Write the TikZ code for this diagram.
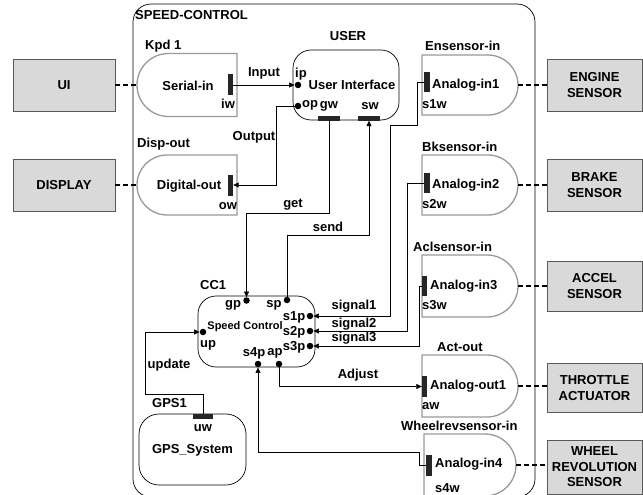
\documentclass[tikz,border=0pt]{standalone}
\usepackage{fontspec}
\setmainfont{Liberation Sans}
\usetikzlibrary{arrows.meta}
\begin{document}
\begin{tikzpicture}[x=1pt,y=-1pt,
  font=\fontsize{13}{16}\selectfont\bfseries,
  txt/.style={inner sep=0pt},
  small/.style={inner sep=0pt,font=\fontsize{11}{13}\selectfont\bfseries},
  ext/.style={draw=black!65, fill=black!15, line width=0.9pt, align=center, inner sep=0pt},
  dsh/.style={draw=black!40, line width=1.3pt, fill=white},
  rbox/.style={draw=black, line width=0.7pt, rounded corners=18pt, fill=white, inner sep=0pt},
  bar/.style={draw=none, fill=black!85, inner sep=0pt, rectangle},
  port/.style={circle, fill=black, inner sep=0pt, minimum size=6.5pt},
  conn/.style={line width=0.6pt, draw=black},
  arr/.style={conn, -{Triangle[length=5.5pt,width=5pt]}},
  dashc/.style={line width=1.4pt, dash pattern=on 5pt off 3pt}]
\useasboundingbox (0,0) rectangle (643,495);

% main frame
\draw[line width=0.7pt, rounded corners=18pt] (133,4) rectangle (535,497);
\node[txt, anchor=west] (sclN) at (135,15) {SPEED-CONTROL};

% external boxes
\node[ext, minimum width=102pt, minimum height=52pt] (ui) at (64,85) {UI};
\node[ext, minimum width=102pt, minimum height=52pt] (disp) at (64,185) {DISPLAY};
\node[ext, minimum width=95pt, minimum height=52pt] (eng) at (594.5,85) {ENGINE\\SENSOR};
\node[ext, minimum width=95pt, minimum height=52pt] (brk) at (594.5,185) {BRAKE\\SENSOR};
\node[ext, minimum width=95pt, minimum height=50pt] (acc) at (594.5,286) {ACCEL\\SENSOR};
\node[ext, minimum width=95pt, minimum height=49pt] (thr) at (594.5,388) {THROTTLE\\ACTUATOR};
\node[ext, minimum width=95pt, minimum height=54pt, font=\fontsize{13}{15.5}\selectfont\bfseries] (whl) at (594.5,467) {WHEEL\\REVOLUTION\\SENSOR};

% Kpd 1 / Serial-in
\draw[dsh] (237,53.5) -- (168.5,53.5) arc[start angle=90,end angle=270,radius=31.5pt] -- (237,116.5) -- cycle;
\coordinate (kpdL) at (137,85);
\node[txt] (kpdT) at (188,86) {Serial-in};
\node[txt, anchor=west] (kpdN) at (145,46) {Kpd 1};
\node[bar, minimum width=5pt, minimum height=21pt] (iw) at (230.5,85) {};
\node[txt] (iwT) at (228,104) {iw};

% Disp-out / Digital-out
\draw[dsh] (237,155) -- (167,155) arc[start angle=90,end angle=270,radius=30pt] -- (237,215) -- cycle;
\coordinate (dispL) at (137,185);
\node[txt] (dispT) at (189,186) {Digital-out};
\node[txt, anchor=west] (dispN) at (137,144) {Disp-out};
\node[bar, minimum width=5pt, minimum height=21pt] (ow) at (230.5,185) {};
\node[txt] (owT) at (228,206) {ow};

% USER
\node[rbox, minimum width=106pt, minimum height=70pt] (user) at (346,85) {};
\node[txt] (userN) at (348,36) {USER};
\node[txt] (userT) at (352,85) {User Interface};
\node[port] (ip) at (298,85) {};
\node[txt] (ipT) at (301,74) {ip};
\node[port] (op) at (298,106) {};
\node[txt] (opT) at (310,105) {op};
\node[txt] (gwT) at (329,106) {gw};
\node[txt] (swT) at (370,106) {sw};
\node[bar, minimum width=22pt, minimum height=5pt] (gw) at (329,118) {};
\node[bar, minimum width=22pt, minimum height=5pt] (sw) at (369,118) {};

% CC1
\node[rbox, minimum width=117pt, minimum height=71pt] (cc) at (256.5,331.5) {};
\node[txt, anchor=west] (ccN) at (200,285) {CC1};
\node[small] (ccT) at (245,327) {Speed Control};
\node[port] (gp) at (246.5,300.5) {};
\node[txt] (gpT) at (233,305) {gp};
\node[port] (sp) at (287,300) {};
\node[txt] (spT) at (274,305) {sp};
\node[port] (s1p) at (310,316) {};
\node[txt] (s1pT) at (294,317) {s1p};
\node[port] (s2p) at (310,331) {};
\node[txt] (s2pT) at (294,332) {s2p};
\node[port] (s3p) at (310,346) {};
\node[txt] (s3pT) at (294,347) {s3p};
\node[port] (up) at (203,332) {};
\node[txt] (upT) at (208,345) {up};
\node[port] (s4p) at (258,364) {};
\node[txt] (s4pT) at (254,353) {s4p};
\node[port] (ap) at (279,364) {};
\node[txt] (apT) at (275,353) {ap};

% GPS1
\node[rbox, rounded corners=20pt, minimum width=107pt, minimum height=71pt] (gps) at (192.5,449.5) {};
\node[txt, anchor=west] (gpsN) at (152,403) {GPS1};
\node[bar, minimum width=20pt, minimum height=5pt] (uw) at (203,416.5) {};
\node[txt] (uwT) at (203,428) {uw};
\node[txt] (gpsT) at (192.5,450) {GPS\_System};

% Ensensor-in
\draw[dsh] (422,55) -- (488,55) arc[start angle=90,end angle=-90,radius=30pt] -- (422,115) -- cycle;
\coordinate (ensR) at (518,85);
\node[bar, minimum width=6pt, minimum height=20pt] (s1w) at (427,82) {};
\node[txt, anchor=west] (ensT) at (432,85) {Analog-in1};
\node[txt, anchor=west] (s1wT) at (422,104) {s1w};
\node[txt, anchor=west] (ensN) at (425,46) {Ensensor-in};

% Bksensor-in
\draw[dsh] (422,155) -- (488,155) arc[start angle=90,end angle=-90,radius=30pt] -- (422,215) -- cycle;
\coordinate (bkR) at (518,185);
\node[bar, minimum width=6pt, minimum height=20pt] (s2w) at (427,183) {};
\node[txt, anchor=west] (bkT) at (432,185) {Analog-in2};
\node[txt, anchor=west] (s2wT) at (422,204) {s2w};
\node[txt, anchor=west] (bkN) at (422,147) {Bksensor-in};

% Aclsensor-in
\draw[dsh] (422,255) -- (487,255) arc[start angle=90,end angle=-90,radius=31pt] -- (422,317) -- cycle;
\coordinate (aclR) at (518,286);
\node[bar, minimum width=5pt, minimum height=20pt] (s3w) at (424.5,286) {};
\node[txt, anchor=west] (aclT) at (430,286) {Analog-in3};
\node[txt, anchor=west] (s3wT) at (422,305) {s3w};
\node[txt, anchor=west] (aclN) at (413,247) {Aclsensor-in};

% Act-out
\draw[dsh] (422,355) -- (487,355) arc[start angle=90,end angle=-90,radius=31pt] -- (422,417) -- cycle;
\coordinate (actR) at (518,386);
\node[bar, minimum width=5pt, minimum height=21pt] (aw) at (424.5,386.5) {};
\node[txt, anchor=west] (actT) at (430,386) {Analog-out1};
\node[txt, anchor=west] (awT) at (422,406) {aw};
\node[txt, anchor=west] (actN) at (437,347) {Act-out};

% Wheelrevsensor-in
\draw[dsh] (424,434) -- (485,434) arc[start angle=90,end angle=-90,radius=31pt] -- (424,496) -- cycle;
\coordinate (whR) at (516,465);
\node[bar, minimum width=6pt, minimum height=21pt] (s4w) at (429,465) {};
\node[txt, anchor=west] (whT) at (435,464) {Analog-in4};
\node[txt, anchor=west] (s4wT) at (435,488) {s4w};
\node[txt, anchor=west] (whN) at (401,426) {Wheelrevsensor-in};

% dashed links
\draw[dashc] (ui.east) -- (kpdL);
\draw[dashc] (disp.east) -- (dispL);
\draw[dashc] (ensR) -- (eng.west |- ensR);
\draw[dashc] (bkR) -- (brk.west |- bkR);
\draw[dashc] (aclR) -- (acc.west |- aclR);
\draw[dashc] (actR) -- (thr.west |- actR);
\draw[dashc] (whR) -- (whl.west |- whR);

% connectors
\draw[arr] (iw.east) -- (ip.west);
\draw[arr] (op.west) -- ++(-18,0) |- (ow.east);
\draw[arr] (gw.south) -- ++(0,92.5) -| (gp.north);
\draw[arr] (sp.north) -- ++(0,-61) -| (sw.south);
\draw[arr] (s1w.west) -- ++(-7,0) -- ++(0,43) -- ++(-27,0) |- (s1p.east);
\draw[arr] (s2w.west) -- ++(-17,0) |- (s2p.east);
\draw[arr] (s3w.west) -- ++(-3,0) |- (s3p.east);
\draw[arr] (ap.south) |- (aw.west);
\draw[arr] (s4w.west) -- ++(-7,0) -- ++(0,-13) -| (s4p.south);
\draw[arr] (uw.north) -- ++(0,-20) -- ++(-57.5,0) |- (up.west);

% connector labels
\node[txt] (inL) at (264,73) {Input};
\node[txt] (outL) at (254,137) {Output};
\node[txt] (getL) at (293,205) {get};
\node[txt] (sendL) at (328,227) {send};
\node[txt] (sig1L) at (354,306) {signal1};
\node[txt] (sig2L) at (354,324) {signal2};
\node[txt] (sig3L) at (354,338) {signal3};
\node[txt] (adjL) at (358,375) {Adjust};
\node[txt] (updL) at (169,365) {update};
\end{tikzpicture}
\end{document}
